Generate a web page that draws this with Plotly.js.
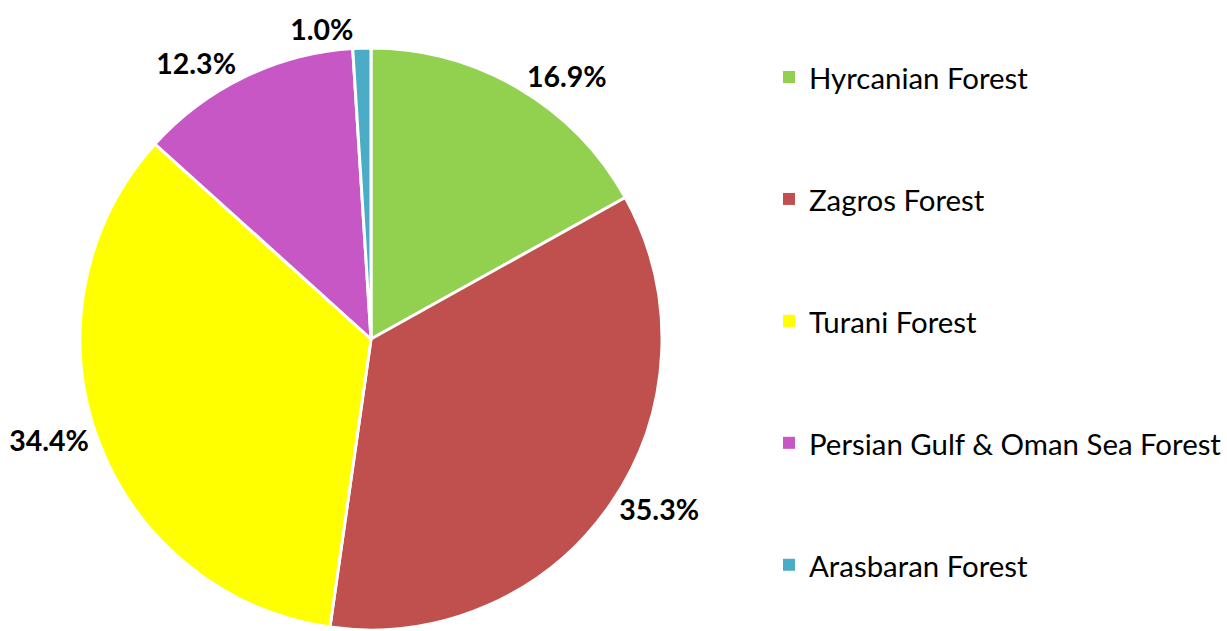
<!DOCTYPE html>
<html>
<head>
<meta charset="utf-8">
<script src="https://cdn.plot.ly/plotly-3.0.1.min.js"></script>
<style>
html,body{margin:0;padding:0;background:#fff;}
#chart{width:1227px;height:631px;}
.textline{display:none;}
.legendpie{stroke-width:0 !important;}
</style>
</head>
<body>
<div id="chart"></div>
<script>
const categories = ["Hyrcanian Forest", "Zagros Forest", "Turani Forest", "Persian Gulf & Oman Sea Forest", "Arasbaran Forest"];
const shares = [16.9, 35.3, 34.4, 12.3, 1.0];
const sliceColors = ["#92D050", "#C0504D", "#FFFF00", "#C757C4", "#4BACC6"];

const legendLabels = categories.map(c => '&nbsp;<br><span style="font-size:29.4px">' + c + '</span><br>&nbsp;');

const trace = {
  type: 'pie',
  labels: legendLabels,
  values: shares,
  sort: false,
  direction: 'clockwise',
  rotation: 0,
  marker: {colors: sliceColors, line: {color: '#FFFFFF', width: 3}},
  texttemplate: '%{percent:.1%}',
  textposition: 'outside',
  textfont: {family: 'Lato, sans-serif', size: 28.5, color: '#000000', weight: 'bold'},
  hoverinfo: 'none',
  automargin: false,
  domain: {x: [80/1227, 662/1227], y: [1/631, 583/631]}
};

const layout = {
  width: 1227, height: 631,
  margin: {l: 0, r: 0, t: 0, b: 0},
  paper_bgcolor: '#FFFFFF',
  showlegend: true,
  legend: {
    x: 769/1227, xanchor: 'left',
    y: 1 - 331.5/631, yanchor: 'middle',
    font: {family: 'Lato, sans-serif', size: 30.5, color: '#000000'},
    valign: 'middle',
    itemclick: false
  }
};

Plotly.newPlot('chart', [trace], layout, {staticPlot: true, displayModeBar: false});
</script>
</body>
</html>
